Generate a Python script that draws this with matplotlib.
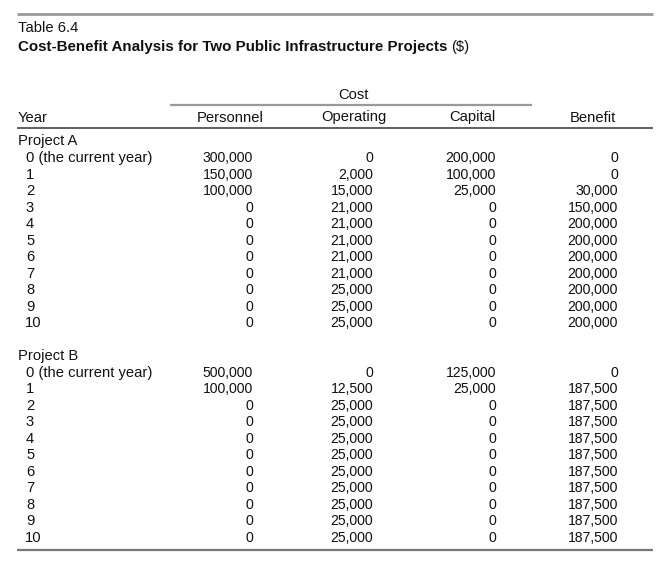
import matplotlib
matplotlib.use("Agg")
import matplotlib.pyplot as plt

# Table 6.4 data
years = ["0 (the current year)"] + [str(i) for i in range(1, 11)]
columns = ["Personnel", "Operating", "Capital", "Benefit"]

a_personnel = [300000, 150000, 100000, 0, 0, 0, 0, 0, 0, 0, 0]
a_operating = [0, 2000, 15000, 21000, 21000, 21000, 21000, 21000, 25000, 25000, 25000]
a_capital = [200000, 100000, 25000, 0, 0, 0, 0, 0, 0, 0, 0]
a_benefit = [0, 0, 30000, 150000, 200000, 200000, 200000, 200000, 200000, 200000, 200000]

b_personnel = [500000, 100000, 0, 0, 0, 0, 0, 0, 0, 0, 0]
b_operating = [0, 12500, 25000, 25000, 25000, 25000, 25000, 25000, 25000, 25000, 25000]
b_capital = [125000, 25000, 0, 0, 0, 0, 0, 0, 0, 0, 0]
b_benefit = [0, 187500, 187500, 187500, 187500, 187500, 187500, 187500, 187500, 187500, 187500]

projects = [
    ("Project A", [a_personnel, a_operating, a_capital, a_benefit], 141.5),
    ("Project B", [b_personnel, b_operating, b_capital, b_benefit], 356.0),
]

plt.rcParams['font.family'] = ['Liberation Sans', 'DejaVu Sans']
FS = 10.6      # words
FS_NUM = 10.1  # figures
FS_TITLE = 10.9
TXT = '#111111'

W, H = 664, 565
fig = plt.figure(figsize=(W / 100, H / 100), dpi=100)
ax = fig.add_axes([0, 0, 1, 1])
ax.set_xlim(0, W)
ax.set_ylim(H, 0)
ax.axis('off')

# column right edges / header centres
col_right = [253, 373, 496, 618]
col_center = [230, 354, 472, 593]
left = 18
row_step = 16.5

# rules
ax.plot([17, 653], [13.5, 13.5], color='#999999', lw=2.0, solid_capstyle='butt')
ax.plot([170, 532], [105, 105], color='#999999', lw=1.6, solid_capstyle='butt')
ax.plot([17, 653], [128, 128], color='#444444', lw=1.2, solid_capstyle='butt')
ax.plot([17, 653], [549.5, 549.5], color='#777777', lw=1.6, solid_capstyle='butt')

# caption and title
ax.text(left, 28.5, "Table 6.4", fontsize=FS, color=TXT, va='center', ha='left')
title = ax.text(left, 47, "Cost-Benefit Analysis for Two Public Infrastructure Projects",
                fontsize=FS_TITLE, fontweight='bold', color=TXT, va='center', ha='left')
fig.canvas.draw()
bb = title.get_window_extent()
x_end = ax.transData.inverted().transform((bb.x1, bb.y0))[0]
ax.text(x_end + 4, 47, "($)", fontsize=FS, color=TXT, va='center', ha='left')

# header
ax.text(353, 95, "Cost", fontsize=FS, color=TXT, va='center', ha='center')
ax.text(left, 117.5, "Year", fontsize=FS, color=TXT, va='center', ha='left')
for name, xc in zip(columns, col_center):
    ax.text(xc, 117.5, name, fontsize=FS, color=TXT, va='center', ha='center')

# body
for label, series, y0 in projects:
    ax.text(left, y0, label, fontsize=FS, color=TXT, va='center', ha='left')
    for i, yr in enumerate(years):
        y = y0 + 16.7 + i * row_step
        ax.text(26 if yr != "10" else 24.5, y, yr, fontsize=FS, color=TXT, va='center', ha='left')
        for vals, xr in zip(series, col_right):
            ax.text(xr, y, f"{vals[i]:,}", fontsize=FS_NUM, color=TXT, va='center', ha='right')

fig.savefig("out.png", dpi=100, facecolor='white')
